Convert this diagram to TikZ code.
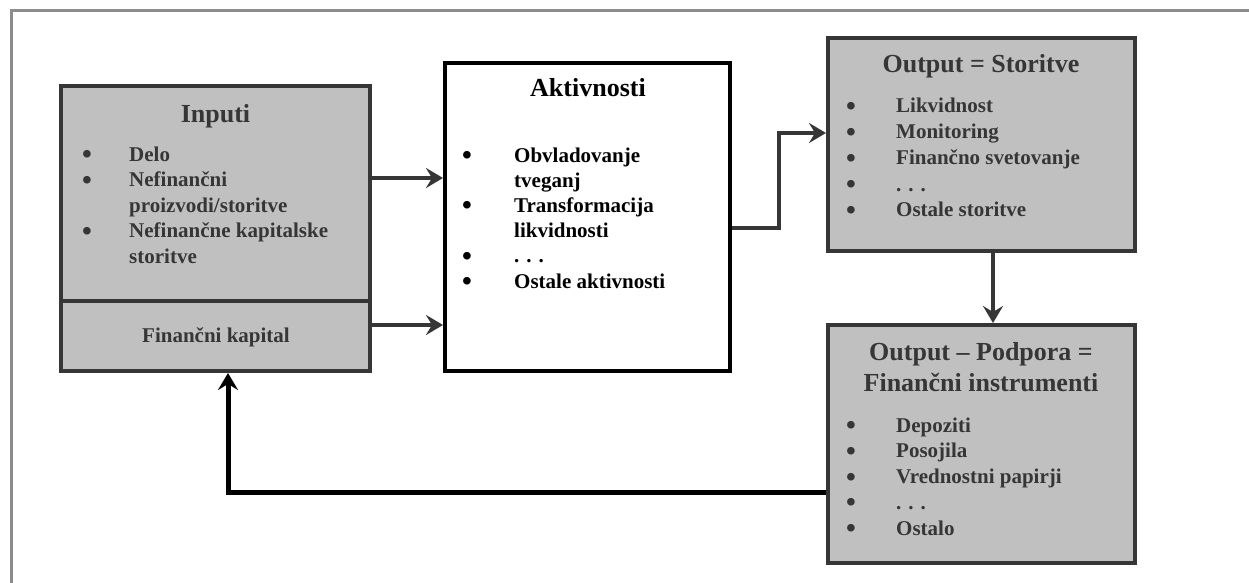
\documentclass[tikz,border=0pt]{standalone}
\usepackage{fontspec}
\setmainfont{Liberation Serif}
\usetikzlibrary{arrows.meta}
\definecolor{boxfill}{HTML}{C0C0C0}
\definecolor{dk}{HTML}{363636}
\definecolor{framegray}{HTML}{8C8C8C}
\newcommand{\myitemfont}[1]{\fontsize{21}{#1}\selectfont\bfseries}
\newcommand{\mytitlefont}{\fontsize{26}{31}\selectfont\bfseries}
\newcommand{\mybul}{\smash{\raisebox{-2.5pt}{\fontsize{28}{0}\selectfont\textbullet}}}
\newcommand{\blist}[3]{{\myitemfont{#2}\begin{tabular}[t]{@{}p{#1}@{}l@{}}#3\end{tabular}}}
\begin{document}
\begin{tikzpicture}[x=1pt,y=-1pt,
  box/.style={draw=dk, fill=boxfill, line width=4pt, inner sep=0pt},
  wbox/.style={draw=black, fill=white, line width=4pt, inner sep=0pt},
  txt/.style={inner sep=0pt, text=dk},
  btxt/.style={inner sep=0pt, text=black},
  conn/.style={draw=dk, line width=4pt, -{Stealth[length=17pt,width=20pt,inset=6pt]}},
  fb/.style={draw=black, line width=5pt, -{Stealth[length=17pt,width=20pt,inset=6pt]}}]
\useasboundingbox (0,0) rectangle (1249,583);
% frame
\draw[framegray, line width=3pt] (11,583) -- (11,11) -- (1249,11);
% boxes
\node[box, minimum width=309pt, minimum height=215pt] (inTop) at (215.5,193.5) {};
\node[box, minimum width=309pt, minimum height=70pt] (inBot) at (215.5,336) {};
\node[wbox, minimum width=285pt, minimum height=308pt] (akt) at (587.5,217) {};
\node[box, minimum width=307pt, minimum height=213pt] (stor) at (981.5,144.5) {};
\node[box, minimum width=307pt, minimum height=238pt] (pod) at (981.5,444) {};
% Inputi texts
\node[txt, anchor=base] (inTitle) at (215.5,122) {\mytitlefont Inputi};
\node[txt, anchor=base west] (inList) at (82,161) {\blist{47pt}{25.5pt}{%
\mybul & Delo\\
\mybul & Nefinančni\\
 & proizvodi/storitve\\
\mybul & Nefinančne kapitalske\\
 & storitve}};
\node[txt, anchor=base] (fk) at (216,342) {\myitemfont{25pt}Finančni kapital};
% Aktivnosti texts
\node[btxt, anchor=base] (aktTitle) at (588,97) {\mytitlefont Aktivnosti};
\node[btxt, anchor=base west] (aktList) at (462,162) {\blist{52pt}{25.2pt}{%
\mybul & Obvladovanje\\
 & tveganj\\
\mybul & Transformacija\\
 & likvidnosti\\
\mybul & . . .\\
\mybul & Ostale aktivnosti}};
% Storitve texts
\node[txt, anchor=base] (storTitle) at (981,73) {\mytitlefont Output = Storitve};
\node[txt, anchor=base west] (storList) at (846,113) {\blist{50pt}{26pt}{%
\mybul & Likvidnost\\
\mybul & Monitoring\\
\mybul & Finančno svetovanje\\
\mybul & . . .\\
\mybul & Ostale storitve}};
% Podpora texts
\node[txt, anchor=base, align=center, font=\mytitlefont] (podTitle) at (981,391) {Output – Podpora =\\Finančni instrumenti};
\node[txt, anchor=base west] (podList) at (846,432) {\blist{50pt}{25.75pt}{%
\mybul & Depoziti\\
\mybul & Posojila\\
\mybul & Vrednostni papirji\\
\mybul & . . .\\
\mybul & Ostalo}};
% connectors
\draw[conn] (inTop.east |- 0,178) -- (akt.west |- 0,178);
\draw[conn] (inBot.east |- 0,325) -- (akt.west |- 0,325);
\draw[conn] (akt.east |- 0,228) -- (779,228) |- (stor.west |- 0,133);
\draw[conn] (stor.south -| 993,0) -- (pod.north -| 993,0);
\draw[fb] (pod.west |- 0,492) -| (inBot.south -| 228,0);
\end{tikzpicture}
\end{document}
